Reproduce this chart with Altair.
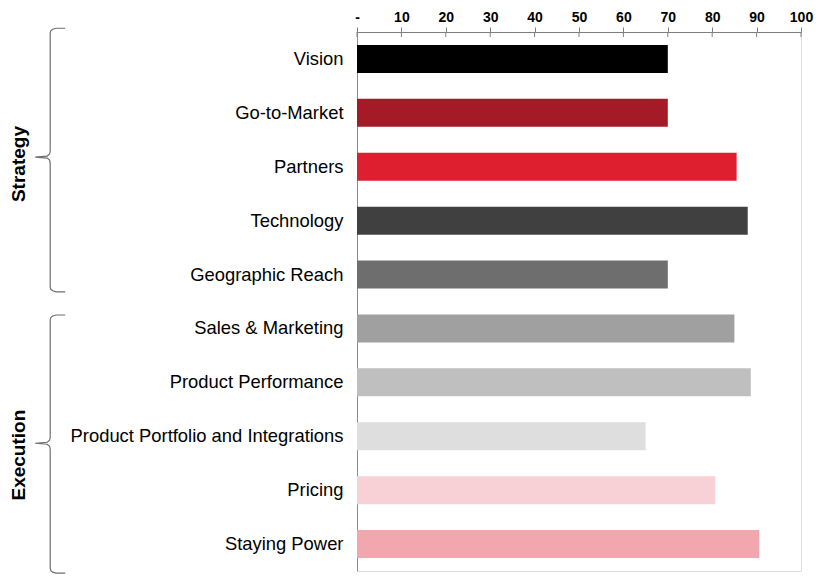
import altair as alt
import pandas as pd

categories = ["Vision", "Go-to-Market", "Partners", "Technology", "Geographic Reach",
              "Sales & Marketing", "Product Performance",
              "Product Portfolio and Integrations", "Pricing", "Staying Power"]
values = [70, 70, 85.5, 88, 70, 85, 88.7, 65, 80.7, 90.6]
colors = ["#000000", "#A51A27", "#DD1F2F", "#404040", "#6E6E6E",
          "#A0A0A0", "#BFBFBF", "#DEDEDE", "#F7D1D6", "#F2A7AE"]
x_ticks = [0, 10, 20, 30, 40, 50, 60, 70, 80, 90, 100]

group_names = ["Strategy", "Execution"]
group_top = [-0.57, 4.75]      # brace extents in row units
group_bottom = [4.32, 9.54]
group_mid = [1.82, 7.13]
group_label_mid = [1.95, 7.35]

FONT = "Liberation Sans"
W, H = 444, 539
PX_X = W / 100.0          # pixels per x unit
PX_Y = H / 10.0           # pixels per row
BRACE_X = -69.1           # x of brace spine in data units
LABEL_X = -76.1

bars_df = pd.DataFrame({"category": categories, "value": values})

# brace shapes built from group extents
rows = []
for gi, g in enumerate(group_names):
    t, b, m = group_top[gi], group_bottom[gi], group_mid[gi]
    pts = [(15, t, 0), (6, t, 0), (2.5, t, 1), (0.6, t, 2.5), (0, t, 5),
           (0, m, -6), (-0.6, m, -3), (-3, m, -1), (-15, m, 0),
           (-3, m, 1), (-0.6, m, 3), (0, m, 6),
           (0, b, -5), (0.6, b, -2.5), (2.5, b, -1), (6, b, 0), (15, b, 0)]
    for i, (dx, base, dy) in enumerate(pts):
        rows.append({"group": g, "order": i,
                     "bx": BRACE_X + dx / PX_X,
                     "by": base + dy / PX_Y})
brace_df = pd.DataFrame(rows)
glabel_df = pd.DataFrame({"group": group_names, "mid": group_label_mid,
                          "lx": [LABEL_X] * len(group_names)})
ticks_df = pd.DataFrame({"t": x_ticks})

xscale = alt.Scale(domain=[0, 100], nice=False, zero=False)

bars = alt.Chart(bars_df).mark_bar().encode(
    x=alt.X("value:Q", scale=xscale,
            axis=alt.Axis(orient="top", values=x_ticks, title=None,
                          labelExpr="datum.value == 0 ? '-' : datum.label",
                          labelFont=FONT, labelFontSize=14, labelFontWeight="bold",
                          labelColor="#000000", labelPadding=3, labelFlush=False,
                          labelOverlap=False,
                          tickSize=5, tickColor="#7f7f7f", domainColor="#7f7f7f",
                          grid=False)),
    y=alt.Y("category:N", sort=categories,
            scale=alt.Scale(paddingInner=0.48, paddingOuter=0.24),
            axis=alt.Axis(title=None, ticks=False, tickSize=0, labelPadding=14,
                          labelFont=FONT, labelFontSize=18.4, labelColor="#000000",
                          domainColor="#8c8c8c", labelLimit=400)),
    color=alt.Color("category:N", scale=alt.Scale(domain=categories, range=colors),
                    legend=None),
)

lower_ticks = alt.Chart(ticks_df).mark_rule(color="#7f7f7f", strokeWidth=1).encode(
    x=alt.X("t:Q", scale=xscale, axis=None),
    y=alt.value(0), y2=alt.value(5),
)

yq = alt.Scale(domain=[-0.5, 9.5], reverse=True, nice=False, zero=False)

braces = alt.Chart(brace_df).mark_line(color="#6e6e6e", strokeWidth=1.2).encode(
    x=alt.X("bx:Q", scale=xscale, axis=None),
    y=alt.Y("by:Q", scale=yq, axis=None),
    detail="group:N",
    order="order:Q",
)

glabels = alt.Chart(glabel_df).mark_text(
    angle=270, font=FONT, fontSize=19, fontWeight="bold", color="#000000",
    align="center", baseline="middle",
).encode(
    x=alt.X("lx:Q", scale=xscale, axis=None),
    y=alt.Y("mid:Q", scale=yq, axis=None),
    text="group:N",
)

chart = alt.layer(bars, lower_ticks, braces, glabels).resolve_scale(
    y="independent"
).resolve_axis(x="independent", y="independent").properties(
    width=W, height=H,
    autosize=alt.AutoSizeParams(type="none"),
    padding={"left": 357, "top": 32, "right": 24, "bottom": 5},
).configure_view(stroke=None).configure(background="#ffffff")

chart.save("out.html", embed_options={"renderer": "svg", "actions": False})
